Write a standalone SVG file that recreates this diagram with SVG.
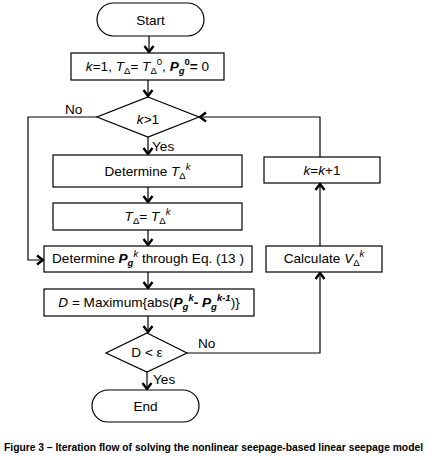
<svg xmlns="http://www.w3.org/2000/svg" width="434" height="460" viewBox="0 0 434 460">
<style>
.s{fill:#fff;stroke:#000;stroke-width:1.2}
.t{font-family:"Liberation Sans",Arial,sans-serif;font-size:13.6px;fill:#000;text-anchor:middle}
.l{font-family:"Liberation Sans",Arial,sans-serif;font-size:13.6px;fill:#000}
.c{fill:none;stroke:#000;stroke-width:1.2}
.i{font-style:italic}
.b{font-weight:bold;font-style:italic}
.sm{font-size:9.5px}
</style>
<defs>
<marker id="a" markerUnits="userSpaceOnUse" markerWidth="14" markerHeight="14" viewBox="-8 -7 10 14" refX="0" refY="0" orient="auto">
<path d="M-6,-4.5 L0,0 L-6,4.5" fill="none" stroke="#000" stroke-width="2.4"/>
</marker>
</defs>
<rect width="434" height="460" fill="#fff"/>
<g id="connectors">
<path class="c" d="M149,36 V52" marker-end="url(#a)"/>
<path class="c" d="M148,80 V96" marker-end="url(#a)"/>
<path class="c" d="M148,137 V154" marker-end="url(#a)"/>
<path class="c" d="M148,187 V202" marker-end="url(#a)"/>
<path class="c" d="M148,230 V245" marker-end="url(#a)"/>
<path class="c" d="M148,272 V288" marker-end="url(#a)"/>
<path class="c" d="M148,316 V332" marker-end="url(#a)"/>
<path class="c" d="M147,372 V389" marker-end="url(#a)"/>
<path class="c" d="M97,117 H28 V260 H43" marker-end="url(#a)"/>
<path class="c" d="M187,353 H320 V273" marker-end="url(#a)"/>
<path class="c" d="M320,246 V184" marker-end="url(#a)"/>
<path class="c" d="M320,157 V117 H200" marker-end="url(#a)"/>
<text class="l" x="65" y="114">No</text>
<text class="l" x="152" y="151">Yes</text>
<text class="l" x="198" y="348">No</text>
<text class="l" x="153" y="384">Yes</text>
</g>
<g id="start">
<rect class="s" x="97" y="3" width="107" height="33" rx="16.5"/>
<text class="t" x="150.5" y="25">Start</text>
</g>
<g id="init">
<rect class="s" x="71" y="53" width="153" height="27"/>
<text class="t" x="147.5" y="71"><tspan class="i">k</tspan>=1, <tspan class="i">T</tspan><tspan class="sm" dy="3">Δ</tspan><tspan dy="-3">= </tspan><tspan class="i">T</tspan><tspan class="sm" dy="3">Δ</tspan><tspan class="sm" dy="-9">0</tspan><tspan dy="6">, </tspan><tspan class="b">P</tspan><tspan class="b sm" dy="3">g</tspan><tspan class="sm" dy="-9" font-weight="bold">0</tspan><tspan dy="6" font-weight="bold">=</tspan> 0</text>
</g>
<g id="check-k">
<polygon class="s" points="148,97 199,117 148,137 97,117"/>
<text class="t" x="148" y="124"><tspan class="i">k</tspan>&gt;1</text>
</g>
<g id="determine-t">
<rect class="s" x="53" y="155" width="189" height="32"/>
<text class="t" x="147.5" y="176">Determine <tspan class="i">T</tspan><tspan class="sm" dy="3">Δ</tspan><tspan class="sm i" dy="-9">k</tspan></text>
</g>
<g id="assign-t">
<rect class="s" x="53" y="203" width="189" height="27"/>
<text class="t" x="147.5" y="221"><tspan class="i">T</tspan><tspan class="sm" dy="3">Δ</tspan><tspan dy="-3">= </tspan><tspan class="i">T</tspan><tspan class="sm" dy="3">Δ</tspan><tspan class="sm i" dy="-9">k</tspan></text>
</g>
<g id="determine-p">
<rect class="s" x="44" y="246" width="208" height="26"/>
<text class="t" x="148" y="263">Determine <tspan class="b">P</tspan><tspan class="b sm" dy="3">g</tspan><tspan class="sm i" dy="-9">k</tspan><tspan dy="6"> through Eq. (13 )</tspan></text>
</g>
<g id="compute-d">
<rect class="s" x="44" y="289" width="210" height="27"/>
<text class="t" x="149" y="307"><tspan class="i">D</tspan> = Maximum{abs(<tspan class="b">P</tspan><tspan class="b sm" dy="3">g</tspan><tspan class="b sm" dy="-9">k</tspan><tspan dy="6" font-weight="bold">- </tspan><tspan class="b">P</tspan><tspan class="b sm" dy="3">g</tspan><tspan class="b sm" dy="-9">k-1</tspan><tspan dy="6">)}</tspan></text>
</g>
<g id="check-d">
<polygon class="s" points="147,333 187,353 147,372 106,353"/>
<text class="t" x="147" y="357">D &lt; ε</text>
</g>
<g id="end">
<rect class="s" x="92" y="390" width="107" height="32" rx="16"/>
<text class="t" x="145.5" y="411">End</text>
</g>
<g id="calc-v">
<rect class="s" x="266" y="246" width="116" height="26"/>
<text class="t" x="324" y="263">Calculate <tspan class="i">V</tspan><tspan class="sm" dy="3">Δ</tspan><tspan class="sm i" dy="-9">k</tspan></text>
</g>
<g id="increment">
<rect class="s" x="264" y="157" width="116" height="26"/>
<text class="t" x="322" y="175"><tspan class="i">k</tspan>=<tspan class="i">k</tspan>+1</text>
</g>
<text x="4" y="451" font-family="'Liberation Sans',Arial,sans-serif" font-size="10.5" font-weight="bold" textLength="419" lengthAdjust="spacingAndGlyphs">Figure 3 – Iteration flow of solving the nonlinear seepage-based linear seepage model</text>
</svg>
